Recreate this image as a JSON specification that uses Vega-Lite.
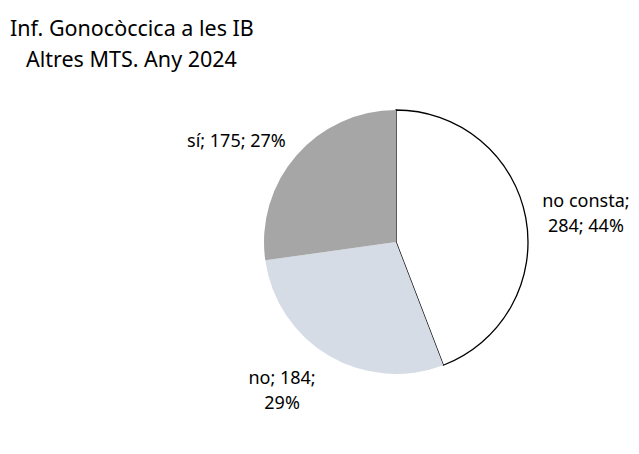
{
  "$schema": "https://vega.github.io/schema/vega-lite/v6.json",
  "autosize": {"type": "fit", "contains": "padding"},
  "width": 639,
  "height": 454,
  "padding": {"left": 10, "right": 7, "top": 19, "bottom": 45},
  "background": "white",
  "config": {"view": {"stroke": null}, "font": "Noto Sans"},
  "title": {
    "text": "Inf. Gonocòccica a les IB",
    "subtitle": "\u2800Altres MTS. Any 2024",
    "anchor": "start",
    "frame": "group",
    "dx": -150,
    "fontSize": 21.5,
    "fontWeight": "normal",
    "color": "black",
    "subtitleFontSize": 21.5,
    "subtitleColor": "black",
    "subtitlePadding": 9,
    "font": "Noto Sans",
    "subtitleFont": "Noto Sans"
  },
  "data": {
    "values": [
      {"cat": "no consta", "n": 284, "ord": 1, "label": "no consta;\n284; 44%"},
      {"cat": "no", "n": 184, "ord": 2, "label": "no; 184;\n29%"},
      {"cat": "sí", "n": 175, "ord": 3, "label": "sí; 175; 27%"}
    ]
  },
  "encoding": {
    "theta": {"field": "n", "type": "quantitative", "stack": true},
    "order": {"field": "ord", "type": "quantitative"}
  },
  "layer": [
    {
      "mark": {"type": "arc", "outerRadius": 132, "strokeWidth": 1.3},
      "encoding": {
        "color": {"field": "cat", "type": "nominal", "scale": {"domain": ["no consta", "no", "sí"], "range": ["#ffffff", "#d6dce5", "#a6a6a6"]}, "legend": null},
        "stroke": {"field": "cat", "type": "nominal", "scale": {"domain": ["no consta", "no", "sí"], "range": ["#000000", "transparent", "transparent"]}, "legend": null}
      }
    },
    {
      "mark": {"type": "text", "radius": 185, "dx": 8, "dy": -6, "fontSize": 18, "lineBreak": "\n", "lineHeight": 25, "font": "Noto Sans", "color": "black"},
      "encoding": {"text": {"condition": {"test": "datum.cat === 'no consta'", "field": "label"}, "value": ""}}
    },
    {
      "mark": {"type": "text", "radius": 185, "dx": -20, "dy": -22, "fontSize": 18, "lineBreak": "\n", "lineHeight": 25, "font": "Noto Sans", "color": "black"},
      "encoding": {"text": {"condition": {"test": "datum.cat === 'no'", "field": "label"}, "value": ""}}
    },
    {
      "mark": {"type": "text", "radius": 185, "dx": -20, "dy": 21, "fontSize": 18, "lineBreak": "\n", "lineHeight": 25, "font": "Noto Sans", "color": "black"},
      "encoding": {"text": {"condition": {"test": "datum.cat === 'sí'", "field": "label"}, "value": ""}}
    }
  ]
}
